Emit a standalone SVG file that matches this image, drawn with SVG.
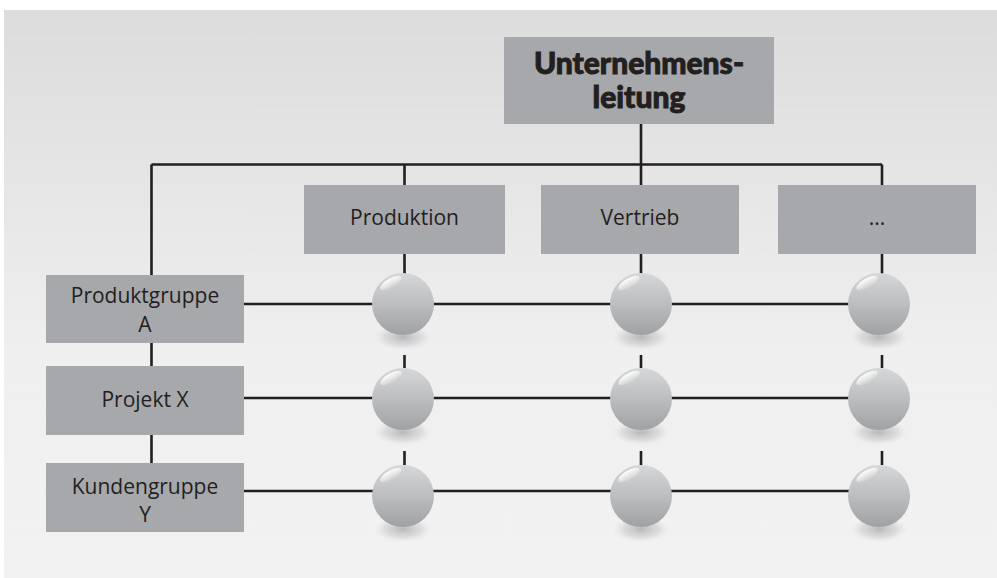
<svg xmlns="http://www.w3.org/2000/svg" width="997" height="578" viewBox="0 0 997 578">
<defs>
<linearGradient id="bg" x1="0" y1="0" x2="0" y2="1">
<stop offset="0" stop-color="#dcdcdd"/>
<stop offset="0.6" stop-color="#efefef"/>
<stop offset="1" stop-color="#f2f2f2"/>
</linearGradient>
<linearGradient id="ball" x1="0" y1="0" x2="0" y2="1">
<stop offset="0" stop-color="#d6d7d8"/>
<stop offset="0.5" stop-color="#bcbdbf"/>
<stop offset="1" stop-color="#a0a1a4"/>
</linearGradient>
<linearGradient id="hl" x1="0" y1="0" x2="0" y2="1">
<stop offset="0" stop-color="#ffffff" stop-opacity="0.95"/>
<stop offset="1" stop-color="#ffffff" stop-opacity="0.1"/>
</linearGradient>
<radialGradient id="sh" cx="0.5" cy="0.4" r="0.5">
<stop offset="0" stop-color="#a8a9ab" stop-opacity="0.8"/>
<stop offset="0.6" stop-color="#c8c9cb" stop-opacity="0.5"/>
<stop offset="1" stop-color="#f2f2f2" stop-opacity="0"/>
</radialGradient>
<g id="sphere">
<ellipse cx="0" cy="36" rx="31" ry="14" fill="url(#sh)"/>
<circle cx="0" cy="0" r="31" fill="url(#ball)"/>
<ellipse cx="-12" cy="-21" rx="12" ry="4.5" transform="rotate(-30 -12 -21)" fill="url(#hl)"/>
</g>
</defs>
<style>
.box{fill:#a7a8ab}
.ln{stroke:#231f20;stroke-width:2.6;fill:none}
.t{font-family:"Open Sans","Noto Sans",sans-serif;font-size:21px;fill:#231f20;text-anchor:middle}
.tb{font-family:Lato,"Open Sans",sans-serif;font-weight:900;font-size:30px;fill:#231f20;stroke:#231f20;stroke-width:0.9;text-anchor:middle}
</style>
<rect x="4" y="10" width="993" height="568" fill="url(#bg)"/>
<g id="connectors">
<path class="ln" d="M641 124V185M151.5 164.5H882M404.5 164.5V185M882 164.5V185"/>
<path class="ln" d="M151.5 164.5V275M151.5 343V366M151.5 435V463"/>
<path class="ln" d="M244 304H879M244 398H879M244 491H879"/>
<path class="ln" d="M404.5 253V275M404.5 355V368M404.5 451V465"/>
<path class="ln" d="M641 253V275M641 355V368M641 451V465"/>
<path class="ln" d="M882 253V275M882 355V368M882 451V465"/>
</g>
<g id="n-top"><rect class="box" x="504" y="37" width="270" height="87"/>
<text class="tb" x="639" y="74">Unternehmens-</text><text class="tb" x="639" y="108">leitung</text></g>
<g id="n-produktion"><rect class="box" x="304" y="185" width="201" height="69"/><text class="t" x="404.5" y="225">Produktion</text></g>
<g id="n-vertrieb"><rect class="box" x="541" y="185" width="198" height="69"/><text class="t" x="640" y="225">Vertrieb</text></g>
<g id="n-more"><rect class="box" x="778" y="185" width="198" height="69"/><text class="t" x="877" y="225">...</text></g>
<g id="n-pga"><rect class="box" x="46" y="275" width="198" height="68"/><text class="t" x="145" y="303">Produktgruppe</text><text class="t" x="145" y="332">A</text></g>
<g id="n-px"><rect class="box" x="46" y="366" width="198" height="69"/><text class="t" x="145" y="407">Projekt X</text></g>
<g id="n-kgy"><rect class="box" x="46" y="463" width="198" height="69"/><text class="t" x="145" y="494">Kundengruppe</text><text class="t" x="145" y="522">Y</text></g>
<g id="spheres">
<use href="#sphere" x="403" y="304"/><use href="#sphere" x="641" y="304"/><use href="#sphere" x="879" y="304"/>
<use href="#sphere" x="403" y="399"/><use href="#sphere" x="641" y="399"/><use href="#sphere" x="879" y="399"/>
<use href="#sphere" x="403" y="496"/><use href="#sphere" x="641" y="496"/><use href="#sphere" x="879" y="496"/>
</g>
</svg>
